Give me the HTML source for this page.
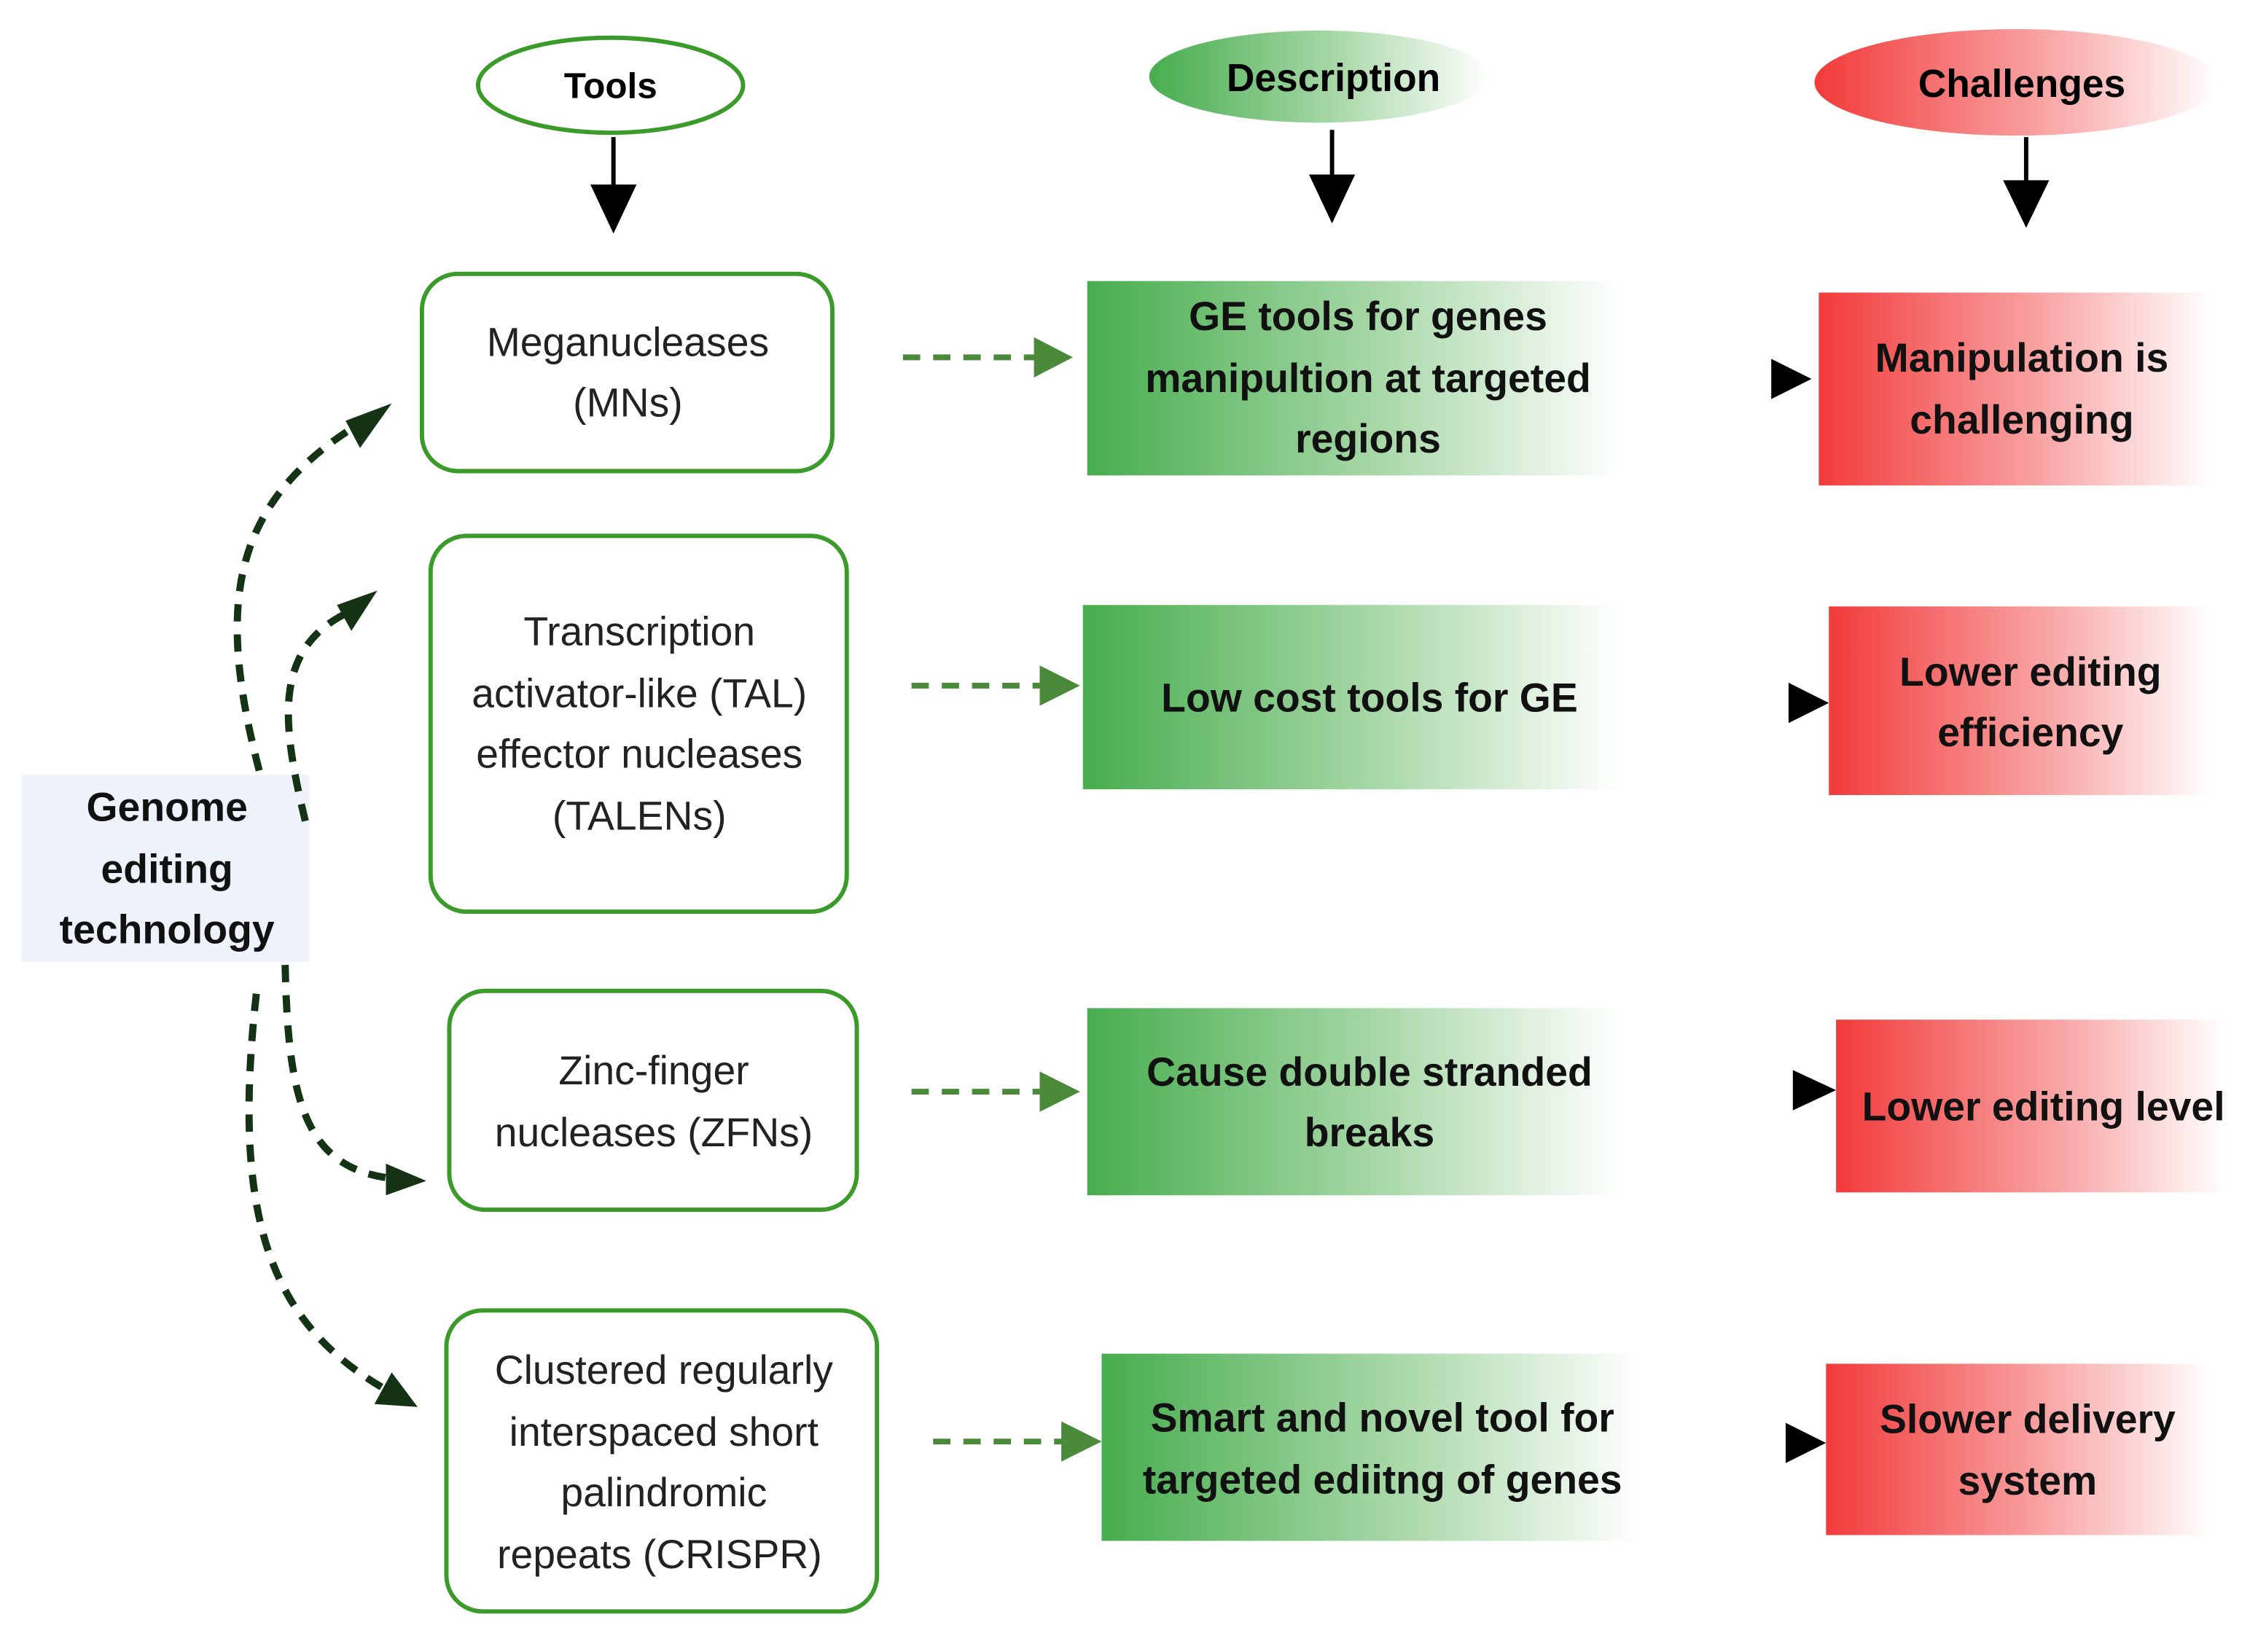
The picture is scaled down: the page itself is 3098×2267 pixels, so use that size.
<!DOCTYPE html>
<html><head><meta charset="utf-8"><style>
html,body{margin:0;padding:0;background:#fff}
svg{display:block}
text{font-family:"Liberation Sans",sans-serif;text-anchor:middle}
.n{font-size:28px;fill:#222}
.b{font-size:28px;font-weight:bold;fill:#111}
</style></head><body>
<svg width="3098" height="2267" viewBox="0 0 1568 1147" xmlns="http://www.w3.org/2000/svg">
<defs>
<linearGradient id="g" x1="0" x2="1"><stop offset="0" stop-color="#47ad4e"/><stop offset="0.55" stop-color="#a8d8a8"/><stop offset="1" stop-color="#fff"/></linearGradient>
<linearGradient id="r" x1="0" x2="1"><stop offset="0" stop-color="#f23a3a"/><stop offset="0.55" stop-color="#f8a0a0"/><stop offset="1" stop-color="#fff"/></linearGradient>
<marker id="ga" markerWidth="8" markerHeight="8" refX="6" refY="4" orient="auto" markerUnits="strokeWidth"><path d="M0,0 L8,4 L0,8 z" fill="#4a8a3a"/></marker>
<marker id="da" markerWidth="6" markerHeight="6" refX="4" refY="3" orient="auto" markerUnits="strokeWidth"><path d="M0,0 L6,3 L0,6 z" fill="#143314"/></marker>
</defs>
<!-- headers -->
<ellipse cx="424" cy="59" rx="92" ry="33" fill="#fff" stroke="#3a9a2a" stroke-width="3"/>
<text x="424" y="68" font-size="25" font-weight="bold">Tools</text>
<ellipse cx="916" cy="53" rx="118" ry="32" fill="url(#g)"/>
<text x="926" y="63" font-size="27" font-weight="bold">Description</text>
<ellipse cx="1400" cy="57" rx="140" ry="37" fill="url(#r)"/>
<text x="1404" y="67" font-size="27" font-weight="bold">Challenges</text>
<g stroke="#000" stroke-width="3">
<line x1="426" y1="95" x2="426" y2="135"/><line x1="925" y1="90" x2="925" y2="128"/><line x1="1407" y1="95" x2="1407" y2="132"/>
</g>
<g fill="#000">
<path d="M410,128 L442,128 L426,162 z"/><path d="M909,121 L941,121 L925,155 z"/><path d="M1391,125 L1423,125 L1407,158 z"/>
</g>
<!-- tool boxes -->
<g fill="#fff" stroke="#3a9a2a" stroke-width="3">
<rect x="293" y="190" width="285" height="137" rx="25"/>
<rect x="299" y="372" width="289" height="261" rx="25"/>
<rect x="312" y="688" width="283" height="152" rx="25"/>
<rect x="310" y="910" width="299" height="209" rx="25"/>
</g>
<text class="n" x="436" y="247">Meganucleases</text><text class="n" x="436" y="289">(MNs)</text>
<text class="n" x="444" y="448">Transcription</text><text class="n" x="444" y="491">activator-like (TAL)</text><text class="n" x="444" y="533">effector nucleases</text><text class="n" x="444" y="576">(TALENs)</text>
<text class="n" x="454" y="753">Zinc-finger</text><text class="n" x="454" y="796">nucleases (ZFNs)</text>
<text class="n" x="461" y="961">Clustered regularly</text><text class="n" x="461" y="1004">interspaced short</text><text class="n" x="461" y="1046">palindromic</text><text class="n" x="458" y="1089">repeats (CRISPR)</text>
<!-- green boxes -->
<rect x="755" y="195" width="370" height="135" fill="url(#g)"/>
<rect x="752" y="420" width="373" height="128" fill="url(#g)"/>
<rect x="755" y="700" width="370" height="130" fill="url(#g)"/>
<rect x="765" y="940" width="375" height="130" fill="url(#g)"/>
<text class="b" x="950" y="229">GE tools for genes</text><text class="b" x="950" y="272">manipultion at targeted</text><text class="b" x="950" y="314">regions</text>
<text class="b" x="951" y="494">Low cost tools for GE</text>
<text class="b" x="951" y="754">Cause double stranded</text><text class="b" x="951" y="796">breaks</text>
<text class="b" x="960" y="994">Smart and novel tool for</text><text class="b" x="960" y="1037">targeted ediitng of genes</text>
<!-- red boxes -->
<rect x="1263" y="203" width="272" height="134" fill="url(#r)"/>
<rect x="1270" y="421" width="265" height="131" fill="url(#r)"/>
<rect x="1275" y="708" width="270" height="120" fill="url(#r)"/>
<rect x="1268" y="947" width="267" height="119" fill="url(#r)"/>
<text class="b" x="1404" y="258">Manipulation is</text><text class="b" x="1404" y="301">challenging</text>
<text class="b" x="1410" y="476">Lower editing</text><text class="b" x="1410" y="518">efficiency</text>
<text class="b" x="1419" y="778">Lower editing level</text>
<text class="b" x="1408" y="995">Slower delivery</text><text class="b" x="1408" y="1038">system</text>
<!-- dashed green arrows -->
<g stroke="#4a8a3a" stroke-width="4" stroke-dasharray="12,9" fill="none">
<line x1="627" y1="248" x2="720" y2="248"/><line x1="633" y1="476" x2="724" y2="476"/>
<line x1="633" y1="758" x2="724" y2="758"/><line x1="648" y1="1001" x2="740" y2="1001"/>
</g>
<g fill="#4a8a3a">
<path d="M718,234 L745,248 L718,262 z"/><path d="M722,462 L750,476 L722,490 z"/>
<path d="M722,744 L750,758 L722,772 z"/><path d="M737,987 L765,1001 L737,1015 z"/>
</g>
<!-- black arrowheads -->
<g fill="#000">
<path d="M1230,249 L1258,263 L1230,277 z"/><path d="M1242,474 L1270,488 L1242,502 z"/>
<path d="M1245,743 L1275,757 L1245,771 z"/><path d="M1240,988 L1268,1002 L1240,1016 z"/>
</g>
<!-- genome box -->
<rect x="15" y="538" width="200" height="130" fill="#eef3fb"/>
<text class="b" x="116" y="570" font-size="28">Genome</text><text class="b" x="116" y="613">editing</text><text class="b" x="116" y="655">technology</text>
<!-- curves -->
<g stroke="#143314" stroke-width="5" stroke-dasharray="12,9" fill="none">
<path d="M180,535 C150,420 160,350 248,295"/>
<path d="M212,570 C195,500 190,450 242,425"/>
<path d="M198,670 C200,760 210,810 270,818"/>
<path d="M178,690 C160,850 190,920 268,965"/>
</g>
<g fill="#143314">
<path d="M272,280 L250,311 L240,292 z"/>
<path d="M262,410 L244,438 L234,420 z"/>
<path d="M296,820 L268,830 L268,808 z"/>
<path d="M290,977 L260,975 L272,953 z"/>
</g>
</svg>
</body></html>
